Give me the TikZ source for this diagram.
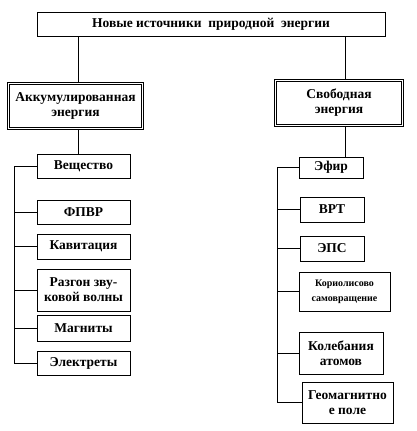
\documentclass[tikz,border=0pt]{standalone}
\usepackage{fontspec}
\setmainfont{Liberation Serif}
\begin{document}
\begin{tikzpicture}[
 x=1pt,y=-1pt,
 line/.style={line width=.7pt},
 leaf/.style={draw,line width=.7pt,inner sep=0pt,align=center,
  font=\bfseries\fontsize{13.5}{15}\selectfont},
 group/.style={leaf,double,double distance=1.6pt,line width=.7pt}]
 \useasboundingbox (0,0) rectangle (416,431);
 % root and the two groups
 \node[leaf,minimum width=348pt,minimum height=24pt] (root) at (211,24)
  {Новые источники\ \ природной\ \ энергии};
 \node[group,minimum width=134pt,minimum height=45pt] (accum) at (75.5,106)
  {Аккумулированная\\энергия};
 \node[group,minimum width=127pt,minimum height=45pt] (free) at (339,103)
  {Свободная\\энергия};
 \coordinate (trunkL) at (78,0); \coordinate (trunkR) at (345,0);
 \coordinate (spineL) at (14,0); \coordinate (spineR) at (277,0);
 % accumulated energy branch
 \foreach \nm/\cy/\bh/\txt in {vesh/166/24/Вещество,fpvr/212/24/ФПВР,
  kav/246.5/25/Кавитация,razg/290/42/{Разгон зву-\\ковой волны},
  magn/328/26/Магниты,elek/363/24/Электреты}{
  \node[leaf,minimum width=93pt,minimum height=\bh pt] (\nm) at (83.5,\cy){\txt};
  \draw[line] (\nm.west) -- (\nm.west -| spineL);
 }
 % free energy branch
 \foreach \nm/\cx/\cy/\bw/\bh/\txt in {efir/331/167.5/64/21/Эфир,vrt/332/209.5/64/25/ВРТ,
  eps/332/248.5/64/25/ЭПС,
  kor/344.5/291.5/91/39/{\fontsize{10}{13}\selectfont Кориолисово\\\fontsize{10}{13}\selectfont самовращение},
  kol/341/353/84/42/{Колебания\\атомов},geo/347.5/402.5/91/41/{Геомагнитно\\е поле}}{
  \node[leaf,minimum width=\bw pt,minimum height=\bh pt] (\nm) at (\cx,\cy){\txt};
  \draw[line] (\nm.west) -- (\nm.west -| spineR);
 }
 \draw[line] (root.south -| trunkL) -- (accum.north -| trunkL);
 \draw[line] (root.south -| trunkR) -- (free.north -| trunkR);
 \draw[line] (accum.south -| trunkL) -- (vesh.north -| trunkL);
 \draw[line] (free.south -| trunkR) -- (efir.north -| trunkR);
 \draw[line] (vesh.west -| spineL) -- (elek.west -| spineL);
 \draw[line] (efir.west -| spineR) -- (geo.west -| spineR);
\end{tikzpicture}
\end{document}
